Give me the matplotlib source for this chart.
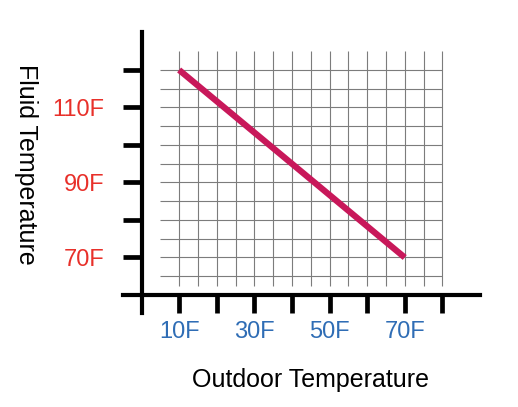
import numpy as np
import matplotlib
matplotlib.use('Agg')
import matplotlib.pyplot as plt

plt.rcParams['font.family'] = ['Liberation Sans', 'DejaVu Sans']

# data
outdoor_temp = [10, 70]
fluid_temp = [120, 70]
x_ticks = [10, 20, 30, 40, 50, 60, 70, 80]
x_labels = ['10F', '', '30F', '', '50F', '', '70F', '']
y_ticks = [70, 80, 90, 100, 110, 120]
y_labels = ['70F', '', '90F', '', '110F', '']

fig = plt.figure(figsize=(5.18, 4.07), dpi=100)
ax = fig.add_axes([0.2369, 0.2310, 0.6896, 0.6892])
ax.set_xlim(-5, 90)
ax.set_ylim(55.2, 130)

# graph-paper grid
ax.hlines(np.arange(65, 121, 5), 5, 80, color='#7c7c7c', lw=0.8, zorder=1)
ax.vlines(np.arange(10, 81, 5), 62.3, 125, color='#7c7c7c', lw=0.8, zorder=1)

ax.plot(outdoor_temp, fluid_temp, color='#c8185a', lw=4.5,
        solid_capstyle='butt', zorder=3)

for s in ['top', 'right']:
    ax.spines[s].set_visible(False)
ax.spines['left'].set_position(('data', 0))
ax.spines['bottom'].set_position(('data', 60))
for s in ['left', 'bottom']:
    ax.spines[s].set_linewidth(3)
    ax.spines[s].set_color('black')

ax.set_xticks(x_ticks)
ax.set_xticklabels(x_labels)
ax.set_yticks(y_ticks)
ax.set_yticklabels(y_labels)
ax.tick_params(axis='x', direction='out', length=13, width=3.4, pad=6,
               labelsize=17, labelcolor='#2f6db5')
ax.tick_params(axis='y', direction='out', length=13.7, width=3.4, pad=13,
               labelsize=17, labelcolor='#e8302a')

fig.text(26 / 518, 1 - 164 / 407, 'Fluid Temperature', rotation=270,
         ha='center', va='center', fontsize=18)
fig.text(310.8 / 518, 1 - 387 / 407, 'Outdoor Temperature',
         ha='center', va='baseline', fontsize=18)

fig.savefig('out.png', dpi=100)
